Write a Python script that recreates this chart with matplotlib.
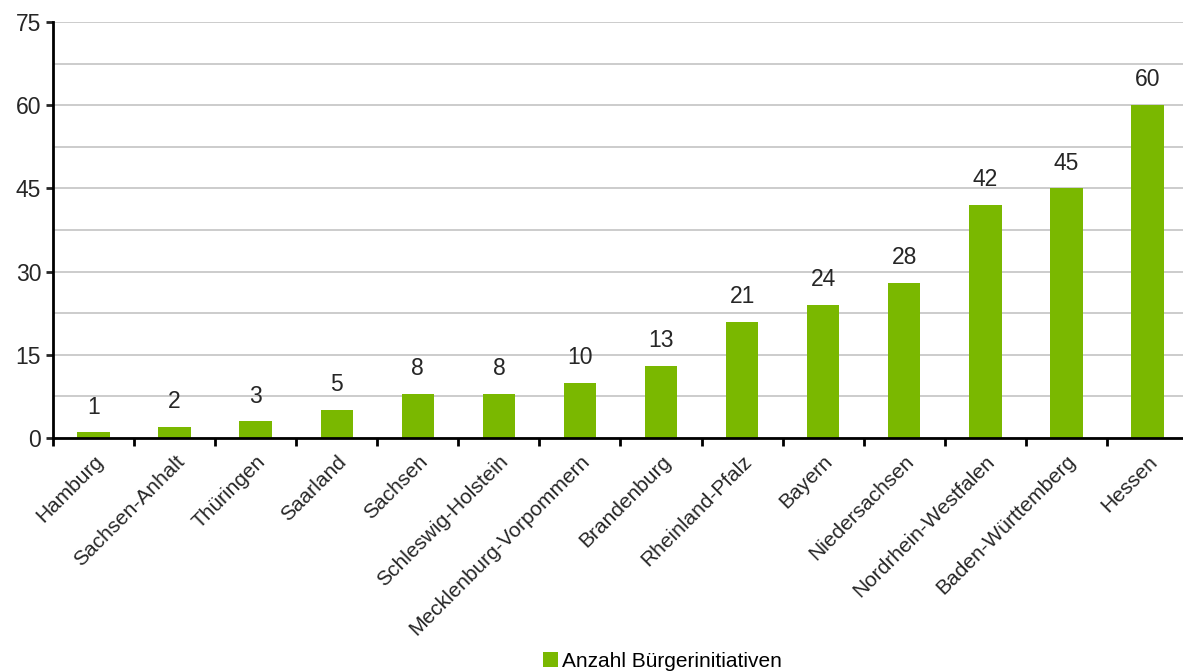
import matplotlib
matplotlib.use("Agg")
import matplotlib.pyplot as plt
import numpy as np

# Daten
laender = ["Hamburg", "Sachsen-Anhalt", "Thüringen", "Saarland", "Sachsen",
           "Schleswig-Holstein", "Mecklenburg-Vorpommern", "Brandenburg",
           "Rheinland-Pfalz", "Bayern", "Niedersachsen", "Nordrhein-Westfalen",
           "Baden-Württemberg", "Hessen"]
anzahl = [1, 2, 3, 5, 8, 8, 10, 13, 21, 24, 28, 42, 45, 60]
y_ticks = [0, 15, 30, 45, 60, 75]
legende = "Anzahl Bürgerinitiativen"

plt.rcParams['font.family'] = ['Liberation Sans', 'DejaVu Sans']

fig = plt.figure(figsize=(11.83, 6.71), dpi=100)
# Achse ragt rechts etwas über den Bildrand hinaus (wie im Original)
ax = fig.add_axes([0.0448, 0.3472, 0.9594, 0.62])

x = np.arange(len(laender))
bars = ax.bar(x, anzahl, width=0.40, color="#7ab800", label=legende, zorder=3)

for xi, v in zip(x, anzahl):
    ax.text(xi, v + 2.5, str(v), ha="center", va="bottom", fontsize=16.5, color="#262626")

ax.set_ylim(0, 75)
ax.set_xlim(-0.5, len(laender) - 0.5)
ax.set_yticks(y_ticks)
ax.set_yticks(np.arange(0, 76, 7.5), minor=True)
ax.tick_params(axis="y", which="major", length=5, width=2, labelsize=16.5, colors="#262626")
ax.tick_params(axis="y", which="minor", length=0)
ax.grid(axis="y", which="both", color="#c4c4c4", linewidth=1.2, zorder=0)

ax.set_xticks(x)
ax.set_xticklabels(laender, rotation=45, ha="right", rotation_mode="anchor", fontsize=15, color="#262626")
ax.set_xticks(np.arange(-0.5, len(laender), 1), minor=True)
ax.tick_params(axis="x", which="major", length=0, pad=10)
ax.tick_params(axis="x", which="minor", length=6, width=2)

for s in ["top", "right"]:
    ax.spines[s].set_visible(False)
for s in ["left", "bottom"]:
    ax.spines[s].set_linewidth(2)
    ax.spines[s].set_zorder(4)

fig.legend(handles=[bars], labels=[legende], loc="lower center", bbox_to_anchor=(0.56, -0.028),
           frameon=False, fontsize=15, handlelength=0.7, handleheight=0.7, handletextpad=0.2)

fig.savefig("out.png", dpi=100)
